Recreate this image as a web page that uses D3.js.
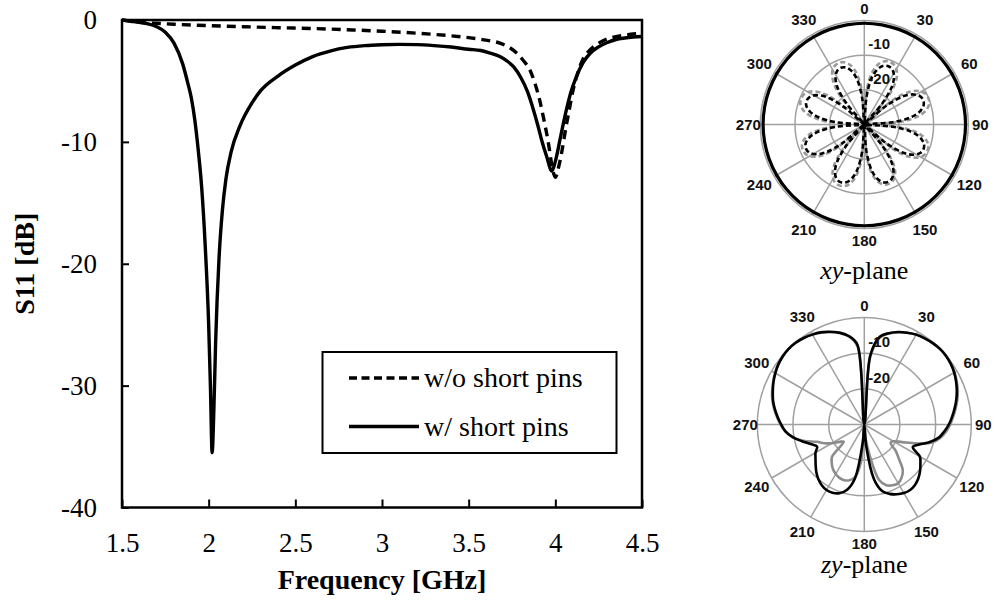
<!DOCTYPE html>
<html>
<head>
<meta charset="utf-8">
<script src="https://cdn.jsdelivr.net/npm/d3@7"></script>
<style>
  body { margin: 0; background: #fff; }
  svg { display: block; background: #fff; }
</style>
</head>
<body>
<svg width="995" height="603"></svg>
<script>
// ---- S11 data ----
const freqWith = [1.50, 1.55, 1.60, 1.65, 1.70, 1.75, 1.80, 1.85, 1.88, 1.90, 1.92, 1.94, 1.96, 1.98, 2.00, 2.01, 2.02, 2.03, 2.04, 2.06, 2.08, 2.10, 2.13, 2.18, 2.25, 2.30, 2.40, 2.50, 2.60, 2.70, 2.80, 2.90, 3.00, 3.10, 3.20, 3.30, 3.40, 3.50, 3.57, 3.62, 3.68, 3.72, 3.76, 3.80, 3.84, 3.87, 3.90, 3.92, 3.95, 3.98, 4.00, 4.03, 4.06, 4.09, 4.12, 4.16, 4.20, 4.25, 4.30, 4.35, 4.40, 4.45, 4.50]
const s11With = [0, -0.1, -0.2, -0.32, -0.55, -1.0, -1.9, -3.6, -5.2, -6.4, -8.2, -10.7, -13.8, -18.5, -25, -30, -35.5, -32, -26.5, -19.5, -15.5, -13, -10.8, -8.7, -6.8, -5.8, -4.6, -3.7, -3.0, -2.55, -2.25, -2.1, -2.03, -2.0, -2.02, -2.1, -2.22, -2.4, -2.5, -2.7, -3.0, -3.35, -3.85, -4.7, -5.9, -7.2, -8.7, -9.8, -11.2, -12.4, -11.6, -9.6, -7.6, -5.9, -4.7, -3.5, -2.75, -2.2, -1.85, -1.6, -1.48, -1.4, -1.35]

const freqWithout = [1.50, 1.60, 1.70, 1.80, 1.90, 2.00, 2.20, 2.40, 2.60, 2.80, 3.00, 3.20, 3.40, 3.50, 3.60, 3.68, 3.74, 3.78, 3.82, 3.85, 3.88, 3.91, 3.93, 3.96, 3.98, 4.00, 4.02, 4.04, 4.06, 4.08, 4.10, 4.13, 4.16, 4.20, 4.25, 4.30, 4.35, 4.40, 4.45, 4.50]
const s11Without = [0, -0.17, -0.27, -0.35, -0.41, -0.46, -0.55, -0.63, -0.7, -0.8, -0.92, -1.08, -1.3, -1.45, -1.65, -1.9, -2.3, -2.75, -3.4, -4.0, -5.1, -6.6, -7.9, -10.1, -11.9, -12.9, -12.0, -10.6, -8.9, -7.4, -5.9, -4.3, -3.2, -2.45, -1.9, -1.55, -1.37, -1.25, -1.15, -1.1]

const xTicks = [1.5, 2, 2.5, 3, 3.5, 4, 4.5]
const yTicks = [0, -10, -20, -30, -40]
const legendLabels = ["w/o short pins", "w/ short pins"]

// ---- radiation patterns (dB, angle clockwise from top) ----
const xyAngles = d3.range(0, 360, 4.5)
const xyCrossWith = [
  -30, -22.0, -16.4, -13.6, -12.2, -11.8, -12.2, -13.6, -16.4, -22.0,
  -30, -21.8, -16.2, -13.4, -12.0, -11.6, -12.0, -13.4, -16.2, -21.8,
  -30, -21.7, -16.1, -13.3, -11.9, -11.5, -11.9, -13.3, -16.1, -21.7,
  -30, -22.3, -16.7, -13.9, -12.5, -12.1, -12.5, -13.9, -16.7, -22.3,
  -30, -22.2, -16.6, -13.8, -12.4, -12.0, -12.4, -13.8, -16.6, -22.2,
  -30, -22.0, -16.4, -13.6, -12.2, -11.8, -12.2, -13.6, -16.4, -22.0,
  -30, -22.2, -16.6, -13.8, -12.4, -12.0, -12.4, -13.8, -16.6, -22.2,
  -30, -22.5, -16.9, -14.1, -12.7, -12.3, -12.7, -14.1, -16.9, -22.5]
const xyCrossWithout = [
  -30, -19.5, -14.5, -12.0, -10.8, -10.5, -10.8, -12.0, -14.5, -19.5,
  -30, -19.0, -14.0, -11.5, -10.3, -10.0, -10.3, -11.5, -14.0, -19.0,
  -30, -19.3, -14.3, -11.8, -10.6, -10.3, -10.6, -11.8, -14.3, -19.3,
  -30, -20.5, -15.5, -13.0, -11.8, -11.5, -11.8, -13.0, -15.5, -20.5,
  -30, -20.0, -15.0, -12.5, -11.3, -11.0, -11.3, -12.5, -15.0, -20.0,
  -30, -19.8, -14.8, -12.3, -11.1, -10.8, -11.1, -12.3, -14.8, -19.8,
  -30, -19.3, -14.3, -11.8, -10.6, -10.3, -10.6, -11.8, -14.3, -19.3,
  -30, -19.8, -14.8, -12.3, -11.1, -10.8, -11.1, -12.3, -14.8, -19.8]
const xyCoAngles = d3.range(0, 360, 10)
const xyCo = [
  -0.8, -0.8, -0.8, -0.8, -0.8, -0.8, -0.8, -0.8, -0.8, -0.8, -0.8, -0.8,
  -0.8, -0.8, -0.8, -0.8, -0.8, -0.8, -0.8, -0.8, -0.8, -0.8, -0.8, -0.8,
  -0.8, -0.8, -0.8, -0.8, -0.8, -0.8, -0.8, -0.8, -0.8, -0.8, -0.8, -0.8]

const zyAngles = d3.range(0, 360, 5)
const zyWith = [
  -30, -10.5, -5.0, -3.5, -2.4, -1.6, -0.9, -0.5, -0.2, 0, -0.1, -0.4,
  -0.9, -1.6, -2.4, -3.3, -4.3, -5.3, -6.3, -7.5, -8.8, -11.0, -13.6, -15.0,
  -12.0, -10.8, -9.6, -8.6, -7.9, -7.6, -7.8, -8.4, -9.3, -10.7, -14.5, -24,
  -30, -25, -14.5, -11.0, -9.5, -8.9, -8.8, -9.2, -10.0, -11.0, -12.2, -13.3,
  -14.2, -15.4, -14.0, -11.9, -9.6, -7.8, -6.7, -5.6, -4.5, -3.5, -2.7, -1.9,
  -1.2, -0.6, -0.2, 0, -0.1, -0.4, -0.9, -1.5, -2.4, -3.4, -4.8, -7.5]
const zyWithout = [
  -30, -11.0, -5.3, -3.6, -2.5, -1.6, -0.9, -0.4, -0.1, 0, 0, -0.3,
  -0.8, -1.4, -2.1, -3.0, -4.0, -5.0, -5.9, -7.0, -8.4, -10.4, -14.5, -18.3,
  -20.6, -21.0, -18.5, -16.2, -13.2, -11.8, -11.0, -11.2, -11.9, -13.9, -21.0, -26.5,
  -30, -19.5, -15.0, -13.8, -13.4, -13.5, -14.0, -14.7, -15.8, -17.2, -22.5, -21.5,
  -19.5, -17.6, -15.8, -12.3, -9.6, -7.8, -6.5, -5.4, -4.3, -3.3, -2.5, -1.8,
  -1.1, -0.5, -0.1, 0, 0, -0.3, -0.8, -1.4, -2.3, -3.3, -4.9, -8.0]

const spokeAngles = d3.range(0, 360, 30)
const ringValues = [-20, -10, 0]

// ---- main S11 chart ----
const svg = d3.select("svg")
const serif = '"Liberation Serif", "Times New Roman", serif'
const sans = '"Liberation Sans", Arial, sans-serif'

const x = d3.scaleLinear().domain([1.5, 4.5]).range([122, 642])
const y = d3.scaleLinear().domain([-40, 0]).range([507.5, 20])

const xAxis = svg.append("g")
    .attr("transform", `translate(0,${y(-40)})`)
    .call(d3.axisBottom(x).tickValues(xTicks).tickFormat(d => String(d))
        .tickSizeInner(-8).tickSizeOuter(0).tickPadding(25))
xAxis.select(".domain").remove()

const yAxis = svg.append("g")
    .attr("transform", `translate(${x(1.5)},0)`)
    .call(d3.axisLeft(y).tickValues(yTicks).tickFormat(d => String(d))
        .tickSizeInner(-7).tickSizeOuter(0).tickPadding(25))
yAxis.select(".domain").remove()

svg.selectAll(".tick line").attr("stroke", "#000").attr("stroke-width", 2)
svg.selectAll(".tick text")
    .attr("font-family", serif)
    .attr("font-size", 27)
    .attr("fill", "#000")

svg.append("rect")
    .attr("x", x(1.5)).attr("y", y(0))
    .attr("width", x(4.5) - x(1.5)).attr("height", y(-40) - y(0))
    .attr("fill", "none").attr("stroke", "#000").attr("stroke-width", 2.5)

const line = d3.line()
    .x(d => x(d[0]))
    .y(d => y(d[1]))
    .curve(d3.curveMonotoneX)

svg.append("path")
    .datum(d3.zip(freqWithout, s11Without))
    .attr("d", line)
    .attr("fill", "none").attr("stroke", "#000")
    .attr("stroke-width", 3.4).attr("stroke-dasharray", "9,6")

svg.append("path")
    .datum(d3.zip(freqWith, s11With))
    .attr("d", line)
    .attr("fill", "none").attr("stroke", "#000")
    .attr("stroke-width", 3.4)

// legend
const legend = svg.append("g")
legend.append("rect")
    .attr("x", 322.5).attr("y", 352).attr("width", 294).attr("height", 101)
    .attr("fill", "#fff").attr("stroke", "#000").attr("stroke-width", 2)

legendLabels.forEach((label, i) => {
    const ly = 378 + i * 48.5
    legend.append("line")
        .attr("x1", 349).attr("x2", 419).attr("y1", ly).attr("y2", ly)
        .attr("stroke", "#000").attr("stroke-width", 3.4)
        .attr("stroke-dasharray", i == 0 ? "8,4.5" : null)
    legend.append("text")
        .attr("x", 424).attr("y", ly)
        .attr("dy", "0.33em")
        .attr("font-family", serif).attr("font-size", 28)
        .text(label)
})

svg.append("text")
    .attr("x", (x(1.5) + x(4.5)) / 2).attr("y", 589)
    .attr("text-anchor", "middle")
    .attr("font-family", serif).attr("font-size", 28).attr("font-weight", "bold")
    .text("Frequency [GHz]")

svg.append("text")
    .attr("transform", `translate(34,${(y(0) + y(-40)) / 2}) rotate(-90)`)
    .attr("text-anchor", "middle")
    .attr("font-family", serif).attr("font-size", 28).attr("font-weight", "bold")
    .text("S11 [dB]")

// ---- polar patterns ----
function polar(cx, cy, R, series, caption, captionY) {
    const g = svg.append("g").attr("transform", `translate(${cx},${cy})`)
    const r = d3.scaleLinear().domain([-30, 0]).range([0, R]).clamp(true)
    const rad = a => a * Math.PI / 180
    const labelR = a => R + 12 + 6 * Math.abs(Math.sin(rad(2 * a)))

    g.selectAll("circle.ring")
        .data(ringValues)
        .enter().append("circle")
        .attr("class", "ring")
        .attr("r", d => r(d))
        .attr("fill", "none").attr("stroke", "#a0a0a0").attr("stroke-width", 1.5)

    g.selectAll("line.spoke")
        .data(spokeAngles)
        .enter().append("line")
        .attr("class", "spoke")
        .attr("x2", d => R * Math.sin(rad(d)))
        .attr("y2", d => -R * Math.cos(rad(d)))
        .attr("stroke", "#a0a0a0").attr("stroke-width", 1.5)

    g.selectAll("text.angle")
        .data(spokeAngles)
        .enter().append("text")
        .attr("class", "angle")
        .attr("x", d => labelR(d) * Math.sin(rad(d)))
        .attr("y", d => -labelR(d) * Math.cos(rad(d)))
        .attr("dy", "0.35em")
        .attr("text-anchor", "middle")
        .attr("font-family", sans).attr("font-weight", "bold").attr("font-size", 15)
        .attr("fill", "#111")
        .text(d => d)

    const radial = d3.lineRadial()
        .angle(d => rad(d[0]))
        .radius(d => r(d[1]))
        .curve(d3.curveCatmullRomClosed.alpha(0.5))

    series.forEach(s => {
        g.append("path")
            .datum(d3.zip(s.angles, s.values))
            .attr("d", radial)
            .attr("fill", "none")
            .attr("stroke", s.color)
            .attr("stroke-width", s.width)
            .attr("stroke-dasharray", s.dash)
    })

    g.selectAll("text.rlabel")
        .data([-10, -20])
        .enter().append("text")
        .attr("class", "rlabel")
        .attr("x", 4)
        .attr("y", d => -r(d) - 11)
        .attr("dy", "0.35em")
        .attr("font-family", sans).attr("font-weight", "bold").attr("font-size", 15)
        .attr("fill", "#111")
        .text(d => d)

    const cap = svg.append("text")
        .attr("x", cx).attr("y", captionY)
        .attr("text-anchor", "middle")
        .attr("font-family", serif).attr("font-size", 26)
    cap.append("tspan").attr("font-style", "italic").text(caption)
    cap.append("tspan").text("-plane")
}

polar(864.3, 124.5, 104, [
    { angles: xyAngles, values: xyCrossWithout, color: "#999", width: 2.6, dash: "5,3" },
    { angles: xyAngles, values: xyCrossWith, color: "#000", width: 2.6, dash: "5,3" },
    { angles: xyCoAngles, values: xyCo, color: "#000", width: 3.2, dash: null }
], "xy", 279)

polar(864.3, 424.5, 107, [
    { angles: zyAngles, values: zyWithout, color: "#8c8c8c", width: 2.6, dash: null },
    { angles: zyAngles, values: zyWith, color: "#000", width: 2.6, dash: null }
], "zy", 573)
</script>
</body>
</html>
